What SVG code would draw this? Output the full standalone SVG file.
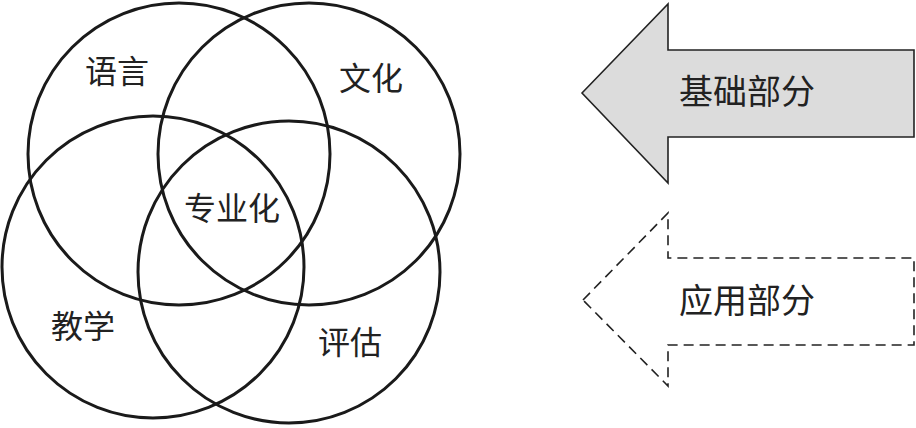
<svg xmlns="http://www.w3.org/2000/svg" width="916" height="428" viewBox="0 0 916 428">
<style>
.c{fill:none;stroke:#1a1a1a;stroke-width:3}
.t{font-family:"Liberation Serif","Noto Sans CJK SC",serif;font-size:32px;fill:#222;text-anchor:middle;dominant-baseline:central}
.a{stroke:#222;stroke-width:1.6;stroke-linejoin:miter}
</style>
<rect width="916" height="428" fill="#fff"/>
<g id="circle-yuyan"><circle class="c" cx="179" cy="154" r="151"/></g>
<g id="circle-wenhua"><circle class="c" cx="309" cy="154" r="151"/></g>
<g id="circle-jiaoxue"><circle class="c" cx="153" cy="267" r="151"/></g>
<g id="circle-pinggu"><circle class="c" cx="289" cy="272" r="151"/></g>
<g id="labels">
<text class="t" x="117" y="72">语言</text>
<text class="t" x="371" y="79">文化</text>
<text class="t" x="232" y="209">专业化</text>
<text class="t" x="83" y="327">教学</text>
<text class="t" x="350" y="343">评估</text>
</g>
<g id="arrow-jichu">
<polygon class="a" fill="#dcdcdc" points="582,93 668,4 668,50 914,50 914,137 668,137 668,183"/>
<text class="t" x="747" y="92" style="font-size:34px">基础部分</text>
</g>
<g id="arrow-yingyong">
<polygon class="a" fill="none" stroke-dasharray="10,6" points="583,300 668,213 668,258 914,258 914,345 668,345 668,386"/>
<text class="t" x="747" y="301" style="font-size:34px">应用部分</text>
</g>
</svg>
